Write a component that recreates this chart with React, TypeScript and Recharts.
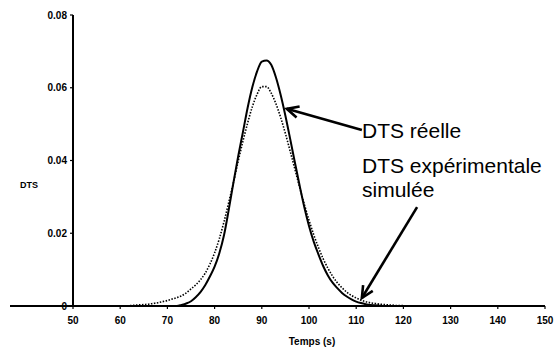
import React from "react";
import { LineChart, Line, XAxis, YAxis, ReferenceLine } from "recharts";

// Temps (s)
const tempsS = [
  50, 55, 60, 62, 63, 64, 65, 66, 67, 68, 69, 70, 71, 72, 73, 74, 75, 76, 77, 78, 79,
  80, 81, 82, 83, 84, 85, 86, 87, 88, 89, 90, 91, 92, 93, 94, 95, 96, 97, 98, 99,
  100, 101, 102, 103, 104, 105, 106, 107, 108, 109, 110, 111, 112, 113, 114, 115,
  116, 117, 118, 119, 120, 121, 122, 125, 130, 135, 140, 145, 150,
];

// DTS réelle (solid)
const dtsReelle = [
  0, 0, 0, 0, 0, 0, 0, 0, 0, 0, 0, 0, 0, 0, 0.0003, 0.0007, 0.0013, 0.0024, 0.0038, 0.0057, 0.0081,
  0.0108, 0.0145, 0.0195, 0.0265, 0.034, 0.0412, 0.0478, 0.0545, 0.0602, 0.0645, 0.0672, 0.0675, 0.0663, 0.0628, 0.058, 0.0523, 0.046, 0.0395, 0.0332, 0.0272,
  0.022, 0.0177, 0.0142, 0.011, 0.0084, 0.0064, 0.0049, 0.0036, 0.0026, 0.0018, 0.0012, 0.0008, 0.0005, 0.0003, 0.0002, 0.0001,
  0, 0, 0, 0, 0, 0, 0, 0, 0, 0, 0, 0, 0,
];

// DTS expérimentale simulée (dotted)
const dtsSimulee = [
  0, 0, 0, 0.0001, 0.0002, 0.0003, 0.0004, 0.0005, 0.0007, 0.0009, 0.0012, 0.0015, 0.0019, 0.0023, 0.0028, 0.0036, 0.0047, 0.0058, 0.0072, 0.009, 0.0115,
  0.0146, 0.0185, 0.0232, 0.0285, 0.034, 0.0398, 0.0453, 0.0503, 0.0548, 0.0582, 0.0603, 0.0603, 0.0585, 0.0556, 0.0518, 0.0474, 0.0426, 0.0377, 0.0327, 0.028,
  0.0236, 0.0196, 0.0161, 0.013, 0.0104, 0.0082, 0.0064, 0.005, 0.0038, 0.0029, 0.0022, 0.0016, 0.0012, 0.0009, 0.0007, 0.0005,
  0.0004, 0.0003, 0.0002, 0.0001, 0.0001, 0, 0, 0, 0, 0, 0, 0, 0,
];

const xTicks = [50, 60, 70, 80, 90, 100, 110, 120, 130, 140, 150];
const yTicks = [0, 0.02, 0.04, 0.06, 0.08];

// Arrow annotations (data space): [tail, tip]
const arrowReelle = [{ x: 111.2, y: 0.0484 }, { x: 95.3, y: 0.0542 }];
const arrowSimulee = [{ x: 122.9, y: 0.0272 }, { x: 111.2, y: 0.0022 }];

const data = tempsS.map((t, i) => ({ t, reelle: dtsReelle[i], simulee: dtsSimulee[i] }));

const ArrowShape = (props: any) => {
  const { x1, y1, x2, y2 } = props;
  const ang = Math.atan2(y2 - y1, x2 - x1);
  const len = 13;
  const spread = 0.45;
  const ax = x2 - len * Math.cos(ang - spread);
  const ay = y2 - len * Math.sin(ang - spread);
  const bx = x2 - len * Math.cos(ang + spread);
  const by = y2 - len * Math.sin(ang + spread);
  return (
    <g>
      <line x1={x1} y1={y1} x2={x2} y2={y2} stroke="#000" strokeWidth={2.6} />
      <polyline points={`${ax},${ay} ${x2},${y2} ${bx},${by}`} fill="none" stroke="#000" strokeWidth={2.6} />
    </g>
  );
};

const tickStyle = { fontSize: 10, fontWeight: 700, fill: "#000", fontFamily: "Liberation Sans, Arial, sans-serif" };

const fmtY = (v: number) => (v === 0 ? "0" : v.toFixed(2));

export default function App() {
  const txt: React.CSSProperties = {
    position: "absolute",
    fontFamily: "Liberation Sans, Arial, sans-serif",
    color: "#000",
    lineHeight: 1,
    whiteSpace: "nowrap",
  };
  return (
    <div style={{ position: "absolute", left: 0, top: 0, width: 556, height: 350, background: "#fff" }}>
      {/* baseline continuing to the left of the y-axis, as in the scan */}
      <div style={{ position: "absolute", left: 10, top: 305, width: 64, height: 2, background: "#000" }} />
      <div style={{ position: "absolute", left: 0, top: 0 }}>
        <LineChart width={556} height={350} data={data} margin={{ top: 15, right: 11, left: 10, bottom: 0 }}>
          <XAxis
            dataKey="t"
            type="number"
            domain={[50, 150]}
            ticks={xTicks}
            tick={tickStyle}
            tickSize={3}
            tickMargin={8}
            height={44}
            axisLine={{ stroke: "#000", strokeWidth: 2 }}
            tickLine={{ stroke: "#000", strokeWidth: 1.2 }}
          />
          <YAxis
            type="number"
            domain={[0, 0.08]}
            ticks={yTicks}
            tickFormatter={fmtY}
            tick={tickStyle}
            tickSize={3}
            tickMargin={3}
            width={63}
            axisLine={{ stroke: "#000", strokeWidth: 2 }}
            tickLine={{ stroke: "#000", strokeWidth: 1.2 }}
          />
          <Line
            type="monotone"
            dataKey="simulee"
            stroke="#000"
            strokeWidth={1.6}
            strokeDasharray="1.5 1.5"
            dot={false}
            isAnimationActive={false}
          />
          <Line
            type="monotone"
            dataKey="reelle"
            stroke="#000"
            strokeWidth={2}
            dot={false}
            isAnimationActive={false}
          />
          <ReferenceLine segment={arrowReelle} ifOverflow="visible" shape={ArrowShape} />
          <ReferenceLine segment={arrowSimulee} ifOverflow="visible" shape={ArrowShape} />
        </LineChart>
      </div>
      <div style={{ ...txt, left: 20, top: 181, fontSize: 9, fontWeight: 700 }}>DTS</div>
      <div style={{ ...txt, left: 262, width: 100, textAlign: "center", top: 337, fontSize: 10, fontWeight: 700 }}>Temps (s)</div>
      <div style={{ ...txt, left: 362, top: 120, fontSize: 21 }}>DTS réelle</div>
      <div style={{ ...txt, left: 362, top: 155, fontSize: 21 }}>DTS expérimentale</div>
      <div style={{ ...txt, left: 362, top: 179, fontSize: 21 }}>simulée</div>
    </div>
  );
}
